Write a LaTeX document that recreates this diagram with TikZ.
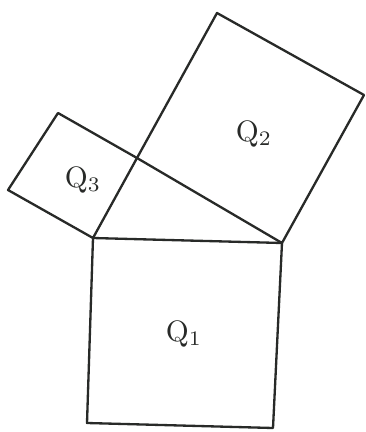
\documentclass[tikz,border=0pt]{standalone}
\definecolor{crayon}{RGB}{40,42,40}
\usepackage{amsmath,amssymb}
\usepackage{tikz}
\usetikzlibrary{positioning,calc}

\begin{document}
\begin{tikzpicture}[x=0.05cm,y=-0.05cm,
				carre/.style={draw=crayon,line width=3.3pt,line join=round},
				lab/.style={crayon,scale=4.2}]
				\useasboundingbox (0,0) rectangle (366,432);
				
				% sommets du triangle
				\coordinate (A) at (93,238);
				\coordinate (B) at (282,243);
				\coordinate (C) at (137,158);
				
				% coins des carres
				\coordinate (p1) at (273,428);
				\coordinate (p2) at (87,423);
				\coordinate (q1) at (364,95);
				\coordinate (q2) at (217,13);
				\coordinate (r1) at (8,190);
				\coordinate (r2) at (58,113);
				
				\draw[carre](A)--(B)--(p1)--(p2)--cycle;
				\draw[carre](C)--(B)--(q1)--(q2)--cycle;
				\draw[carre](C)--(A)--(r1)--(r2)--cycle;
				
				\node[lab] (Q1) at (184,334){$\mathrm{Q}_1$};
				\node[lab] (Q2) at (254,134){$\mathrm{Q}_2$};
				\node[lab] (Q3) at (83,180){$\mathrm{Q}_3$};
			\end{tikzpicture}
\end{document}
